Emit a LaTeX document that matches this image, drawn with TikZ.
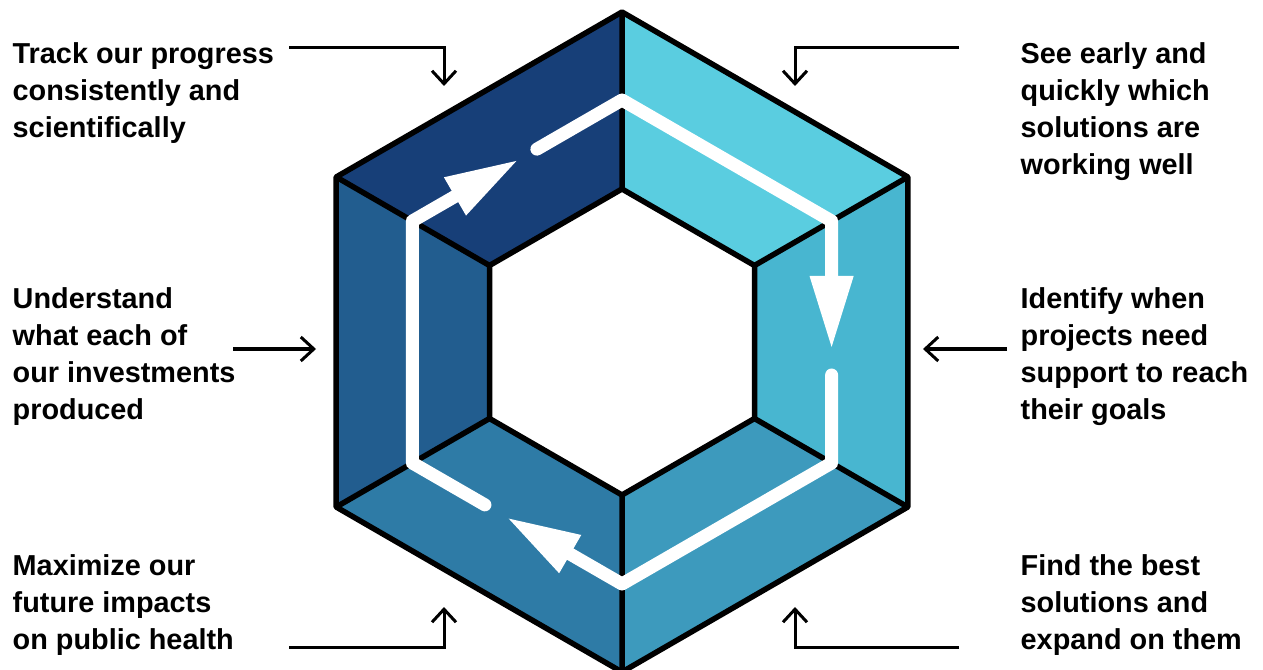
\documentclass[tikz,border=0pt]{standalone}
\usepackage{fontspec}
\setmainfont{Liberation Sans}
\usetikzlibrary{arrows.meta,calc}
\definecolor{cTL}{HTML}{173F78}
\definecolor{cTR}{HTML}{5ACDE0}
\definecolor{cR}{HTML}{48B6D0}
\definecolor{cBR}{HTML}{3D9ABD}
\definecolor{cBL}{HTML}{2E7BA6}
\definecolor{cL}{HTML}{225D8F}
\begin{document}
\begin{tikzpicture}[x=0.01cm,y=-0.01cm,
  edge/.style={draw=black,line width=0.055cm,line join=round},
  flow/.style={draw=white,line width=0.13cm,line cap=round,line join=round,
    -{Triangle[length=0.74cm,width=0.40cm]}},
  callout/.style={draw=black,line width=0.03cm,-{Straight Barb[length=0.13cm,width=0.24cm,line width=0.03cm]}},
  label/.style={anchor=north west,align=left,inner sep=0pt,
    font=\fontsize{8.2pt}{10.53pt}\selectfont\bfseries}]
\useasboundingbox (0,0) rectangle (1263,670);
% outer hexagon
\coordinate (oT) at (622,12);
\coordinate (oUR) at (907.8,177);
\coordinate (oLR) at (907.8,507);
\coordinate (oB) at (622,672);
\coordinate (oLL) at (336.2,507);
\coordinate (oUL) at (336.2,177);
% inner hexagon
\coordinate (iT) at (622,189);
\coordinate (iUR) at (754.5,265.5);
\coordinate (iLR) at (754.5,418.5);
\coordinate (iB) at (622,495);
\coordinate (iLL) at (489.5,418.5);
\coordinate (iUL) at (489.5,265.5);
% mid hexagon (flow path)
\coordinate (mT) at (622,100);
\coordinate (mUR) at (831.6,221);
\coordinate (mLR) at (831.6,463);
\coordinate (mB) at (622,584);
\coordinate (mLL) at (412.4,463);
\coordinate (mUL) at (412.4,221);
% faces
\fill[cTL] (oT) -- (iT) -- (iUL) -- (oUL) -- cycle;
\fill[cTR] (oT) -- (oUR) -- (iUR) -- (iT) -- cycle;
\fill[cR] (oUR) -- (oLR) -- (iLR) -- (iUR) -- cycle;
\fill[cBR] (oLR) -- (oB) -- (iB) -- (iLR) -- cycle;
\fill[cBL] (oB) -- (oLL) -- (iLL) -- (iB) -- cycle;
\fill[cL] (oLL) -- (oUL) -- (iUL) -- (iLL) -- cycle;
% edges
\draw[edge] (oT) -- (oUR) -- (oLR) -- (oB) -- (oLL) -- (oUL) -- cycle;
\draw[edge] (iT) -- (iUR) -- (iLR) -- (iB) -- (iLL) -- (iUL) -- cycle;
\draw[edge] (oT) -- (iT) (oUR) -- (iUR) (oLR) -- (iLR)
  (oB) -- (iB) (oLL) -- (iLL) (oUL) -- (iUL);
% flow
\coordinate (s1) at ($(mUL)!0.594!(mT)$);
\coordinate (e1) at (831.6,350);
\coordinate (s2) at (831.6,375);
\coordinate (e2) at ($(mB)!0.553!(mLL)$);
\coordinate (s3) at ($(mB)!0.654!(mLL)$);
\coordinate (e3) at ($(mUL)!0.509!(mT)$);
\draw[flow] (s1) -- (mT) -- (mUR) -- (e1);
\draw[flow] (s2) -- (mLR) -- (mB) -- (e2);
\draw[flow] (s3) -- (mLL) -- (mUL) -- (e3);
% labels
\node[label] (t1) at (12,42) {Track our progress\\consistently and\\scientifically};
\node[label] (t2) at (1020,42) {See early and\\quickly which\\solutions are\\working well};
\node[label] (t3) at (12,287) {Understand\\what each of\\our investments\\produced};
\node[label] (t4) at (1020,287) {Identify when\\projects need\\support to reach\\their goals};
\node[label] (t5) at (12,554) {Maximize our\\future impacts\\on public health};
\node[label] (t6) at (1020,554) {Find the best\\solutions and\\expand on them};
% callouts
\coordinate (a1s) at (289,48);
\coordinate (a1e) at (444,86);
\draw[callout] (a1s) -| (a1e);
\coordinate (a2s) at (959,48);
\coordinate (a2e) at (795,86);
\draw[callout] (a2s) -| (a2e);
\coordinate (a3s) at (233,349);
\coordinate (a3e) at (316,349);
\draw[callout] (a3s) -- (a3e);
\coordinate (a4s) at (1007,349);
\coordinate (a4e) at (923,349);
\draw[callout] (a4s) -- (a4e);
\coordinate (a5s) at (289,647);
\coordinate (a5e) at (444,607);
\draw[callout] (a5s) -| (a5e);
\coordinate (a6s) at (959,647);
\coordinate (a6e) at (795,607);
\draw[callout] (a6s) -| (a6e);
\end{tikzpicture}
\end{document}
